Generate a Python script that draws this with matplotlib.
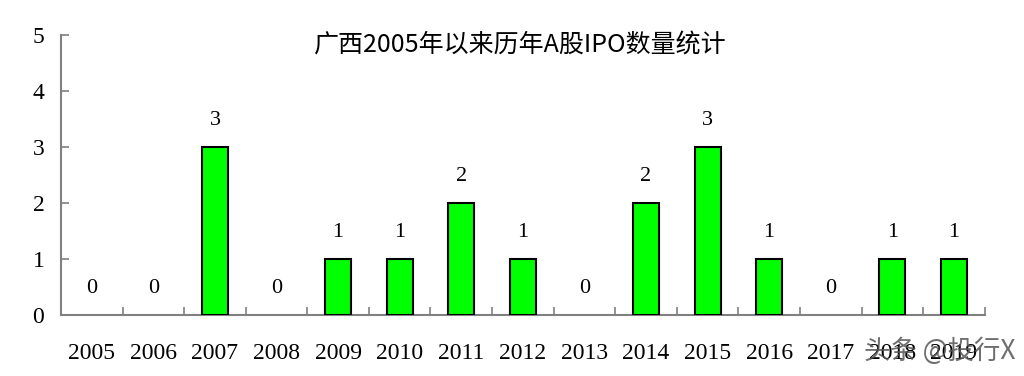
import matplotlib.pyplot as plt

years = ['2005', '2006', '2007', '2008', '2009', '2010', '2011', '2012',
         '2013', '2014', '2015', '2016', '2017', '2018', '2019']
ipo_counts = [0, 0, 3, 0, 1, 1, 2, 1, 0, 2, 3, 1, 0, 1, 1]
title = '广西2005年以来历年A股IPO数量统计'

fig = plt.figure(figsize=(10.24, 3.76), dpi=100)
ax = fig.add_axes([0.0596, 0.162, 0.902, 0.745])

x = list(range(len(years)))
widths = [1.5 if v > 0 else 0 for v in ipo_counts]
ax.bar(x, ipo_counts, width=0.42, color='#00ff00', edgecolor='black', linewidth=widths, zorder=3)

for xi, v in zip(x, ipo_counts):
    ax.annotate(str(v), (xi, v), xytext=(0, 12), textcoords='offset points',
                ha='center', va='bottom', fontsize=16, family='Liberation Serif')

ax.set_xlim(-0.5, len(years) - 0.5)
ax.set_ylim(0, 5)
ax.set_yticks(range(6))
ax.set_yticklabels([str(i) for i in range(6)], family='Liberation Serif', fontsize=17)

# ticks at category boundaries, labels centered
ax.set_xticks([i - 0.5 for i in range(len(years) + 1)])
ax.set_xticklabels([])
ax.set_xticks(x, minor=True)
ax.set_xticklabels(years, minor=True, family='Liberation Serif', fontsize=17)
ax.tick_params(axis='x', which='major', direction='in', length=6, color='#808080', width=1.2)
ax.tick_params(axis='x', which='minor', length=0, pad=20)
ax.tick_params(axis='y', direction='in', length=6, color='#808080', width=1.2, pad=12)

for side in ['top', 'right']:
    ax.spines[side].set_visible(False)
for side in ['left', 'bottom']:
    ax.spines[side].set_color('#808080')
    ax.spines[side].set_linewidth(1.5)

fig.text(0.508, 0.88, title, ha='center', va='center', fontsize=18,
         family=['Noto Sans CJK SC', 'DejaVu Sans'])

# watermark overlapping the last tick labels, as in the source image
fig.text(0.992, 0.065, '头条 @投行X', ha='right', va='center', fontsize=19,
         color='#555555', alpha=0.85, family=['Noto Sans CJK SC', 'DejaVu Sans'])

fig.savefig('out.png', dpi=100)
